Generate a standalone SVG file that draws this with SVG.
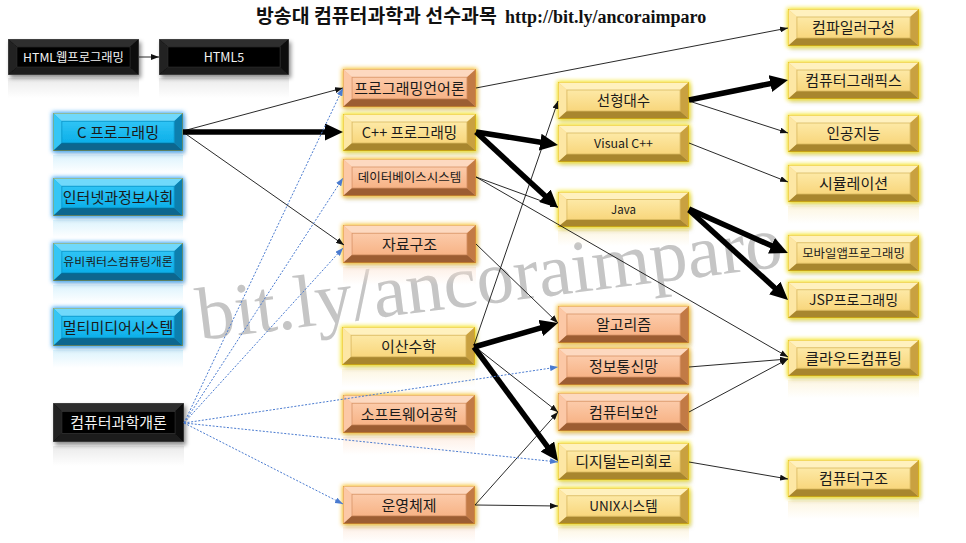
<svg xmlns="http://www.w3.org/2000/svg" xmlns:xlink="http://www.w3.org/1999/xlink" width="966" height="543" viewBox="0 0 966 543">
<style>
.t{font-family:'Noto Sans CJK KR','Noto Sans',sans-serif;text-anchor:middle;fill:#1a1a1a}
.tw{fill:#f2f2f2}
.thin{stroke:#111;stroke-width:0.9;fill:none;marker-end:url(#ah)}
.thick{stroke:#000;stroke-width:5.5;fill:none;marker-end:url(#ahT)}
.dot{stroke:#4a7bd0;stroke-width:1;stroke-dasharray:2 1.6;fill:none;marker-end:url(#ahB)}
.fY{filter:url(#glowY)} .fO{filter:url(#glowO)} .fB{filter:url(#glowB)} .fK{filter:url(#glowK)}
</style>
<defs>
<linearGradient id="gY" x1="0" y1="0" x2="0" y2="1"><stop offset="0" stop-color="#fde9a6"/><stop offset="1" stop-color="#f8d67c"/></linearGradient>
<linearGradient id="gO" x1="0" y1="0" x2="0" y2="1"><stop offset="0" stop-color="#fccbaa"/><stop offset="1" stop-color="#f7b386"/></linearGradient>
<linearGradient id="gB" x1="0" y1="0" x2="0" y2="1"><stop offset="0" stop-color="#30c4f5"/><stop offset="1" stop-color="#0cafe9"/></linearGradient>
<linearGradient id="rY" x1="0" y1="0" x2="0" y2="1"><stop offset="0" stop-color="#fbeec8" stop-opacity="0.55"/><stop offset="1" stop-color="#fbeec8" stop-opacity="0"/></linearGradient>
<linearGradient id="rO" x1="0" y1="0" x2="0" y2="1"><stop offset="0" stop-color="#fde3d2" stop-opacity="0.55"/><stop offset="1" stop-color="#fde3d2" stop-opacity="0"/></linearGradient>
<linearGradient id="rB" x1="0" y1="0" x2="0" y2="1"><stop offset="0" stop-color="#cdeefc" stop-opacity="0.7"/><stop offset="1" stop-color="#cdeefc" stop-opacity="0"/></linearGradient>
<linearGradient id="rK" x1="0" y1="0" x2="0" y2="1"><stop offset="0" stop-color="#dcdcdc" stop-opacity="0.6"/><stop offset="1" stop-color="#dcdcdc" stop-opacity="0"/></linearGradient>
<filter id="glowY" x="-15%" y="-40%" width="135%" height="190%">
<feMorphology in="SourceAlpha" operator="dilate" radius="1.2" result="d"/><feGaussianBlur in="d" stdDeviation="2" result="b"/><feFlood flood-color="#f4e21c"/><feComposite in2="b" operator="in" result="g"/>
<feOffset in="SourceAlpha" dx="2" dy="3" result="o"/><feGaussianBlur in="o" stdDeviation="2" result="ob"/><feFlood flood-color="#000" flood-opacity="0.3"/><feComposite in2="ob" operator="in" result="s"/>
<feMerge><feMergeNode in="s"/><feMergeNode in="g"/><feMergeNode in="SourceGraphic"/></feMerge></filter>
<filter id="glowO" x="-15%" y="-40%" width="135%" height="190%">
<feMorphology in="SourceAlpha" operator="dilate" radius="1.2" result="d"/><feGaussianBlur in="d" stdDeviation="2" result="b"/><feFlood flood-color="#f6c030"/><feComposite in2="b" operator="in" result="g"/>
<feOffset in="SourceAlpha" dx="2" dy="3" result="o"/><feGaussianBlur in="o" stdDeviation="2" result="ob"/><feFlood flood-color="#000" flood-opacity="0.3"/><feComposite in2="ob" operator="in" result="s"/>
<feMerge><feMergeNode in="s"/><feMergeNode in="g"/><feMergeNode in="SourceGraphic"/></feMerge></filter>
<filter id="glowB" x="-15%" y="-40%" width="135%" height="190%">
<feMorphology in="SourceAlpha" operator="dilate" radius="1.2" result="d"/><feGaussianBlur in="d" stdDeviation="2" result="b"/><feFlood flood-color="#3aa6f8"/><feComposite in2="b" operator="in" result="g"/>
<feOffset in="SourceAlpha" dx="2" dy="3" result="o"/><feGaussianBlur in="o" stdDeviation="2" result="ob"/><feFlood flood-color="#000" flood-opacity="0.3"/><feComposite in2="ob" operator="in" result="s"/>
<feMerge><feMergeNode in="s"/><feMergeNode in="g"/><feMergeNode in="SourceGraphic"/></feMerge></filter>
<filter id="glowK" x="-15%" y="-40%" width="135%" height="190%">
<feOffset in="SourceAlpha" dx="2" dy="3" result="o"/><feGaussianBlur in="o" stdDeviation="2.2" result="ob"/><feFlood flood-color="#000" flood-opacity="0.45"/><feComposite in2="ob" operator="in" result="s"/>
<feMerge><feMergeNode in="s"/><feMergeNode in="SourceGraphic"/></feMerge></filter>
<symbol id="bY" viewBox="0 0 132 37" preserveAspectRatio="none">
<rect x="0.5" y="0.5" width="131" height="36" fill="#f3d070" stroke="#e6c000" stroke-width="1"/>
<polygon points="0.5,0.5 131.5,0.5 123,8 9,8" fill="#fff1bf"/>
<polygon points="0.5,0.5 9,8 9,29 0.5,36.5" fill="#fde7a4"/>
<polygon points="131.5,0.5 131.5,36.5 123,29 123,8" fill="#c9a13f"/>
<polygon points="0.5,36.5 9,29 123,29 131.5,36.5" fill="#a8862f"/>
<rect x="9" y="8" width="114" height="21" fill="url(#gY)" stroke="#d8b860" stroke-width="0.8"/>
</symbol>
<symbol id="bO" viewBox="0 0 132 37" preserveAspectRatio="none">
<rect x="0.5" y="0.5" width="131" height="36" fill="#f6b586" stroke="#e09a2a" stroke-width="1"/>
<polygon points="0.5,0.5 131.5,0.5 123,8 9,8" fill="#fdd9c0"/>
<polygon points="0.5,0.5 9,8 9,29 0.5,36.5" fill="#fcc8a6"/>
<polygon points="131.5,0.5 131.5,36.5 123,29 123,8" fill="#c27a45"/>
<polygon points="0.5,36.5 9,29 123,29 131.5,36.5" fill="#9c5d33"/>
<rect x="9" y="8" width="114" height="21" fill="url(#gO)" stroke="#d89468" stroke-width="0.8"/>
</symbol>
<symbol id="bB" viewBox="0 0 132 37" preserveAspectRatio="none">
<rect x="0.5" y="0.5" width="131" height="36" fill="#12b2ea" stroke="#b09a3a" stroke-width="1"/>
<polygon points="0.5,0.5 131.5,0.5 123,8 9,8" fill="#6fd9fb"/>
<polygon points="0.5,0.5 9,8 9,29 0.5,36.5" fill="#34c6f5"/>
<polygon points="131.5,0.5 131.5,36.5 123,29 123,8" fill="#0a7fae"/>
<polygon points="0.5,36.5 9,29 123,29 131.5,36.5" fill="#07668e"/>
<rect x="9" y="8" width="114" height="21" fill="url(#gB)" stroke="#0a94c8" stroke-width="0.8"/>
</symbol>
<symbol id="bK" viewBox="0 0 132 37" preserveAspectRatio="none">
<rect x="0.5" y="0.5" width="131" height="36" fill="#000" stroke="#555" stroke-width="1"/>
<polygon points="0.5,0.5 131.5,0.5 123,8 9,8" fill="#2e2e2e"/>
<polygon points="0.5,0.5 9,8 9,29 0.5,36.5" fill="#222"/>
<polygon points="131.5,0.5 131.5,36.5 123,29 123,8" fill="#111"/>
<polygon points="0.5,36.5 9,29 123,29 131.5,36.5" fill="#1c1c1c"/>
<rect x="9" y="8" width="114" height="21" fill="#000" stroke="#333" stroke-width="0.8"/>
</symbol>
<marker id="ah" markerUnits="userSpaceOnUse" markerWidth="8" markerHeight="6" refX="8" refY="3" orient="auto"><path d="M0,0 L8,3 L0,6 z" fill="#111"/></marker>
<marker id="ahB" markerUnits="userSpaceOnUse" markerWidth="8" markerHeight="6" refX="8" refY="3" orient="auto"><path d="M0,0 L8,3 L0,6 z" fill="#4a7bd0"/></marker>
<marker id="ahT" markerUnits="userSpaceOnUse" markerWidth="18" markerHeight="17" refX="2" refY="8.5" orient="auto"><path d="M0,0 L18,8.5 L0,17 z" fill="#000"/></marker>
</defs>
<rect width="966" height="543" fill="#fff"/>
<text x="200" y="340" transform="rotate(-7.2 200 340)" font-family="'Liberation Serif',serif" font-size="75" fill="#c5c5c5">bit.ly/ancoraimparo</text>
<text y="23" font-weight="bold" fill="#111"><tspan x="256" font-size="19.4" font-family="'Noto Sans CJK KR',sans-serif">방송대 컴퓨터과학과 선수과목</tspan><tspan x="505" font-size="18" font-family="'Liberation Serif',serif">http://bit.ly/ancoraimparo</tspan></text>

<g id="nodes">
<g id="n-html"><rect x="8" y="78" width="131" height="20" fill="url(#rK)"/><use xlink:href="#bK" class="fK" x="8" y="39" width="131" height="36"/><text class="t tw" x="73.5" y="61.5" font-size="12.3">HTML웹프로그래밍</text></g>
<g id="n-html5"><rect x="159" y="78" width="130" height="20" fill="url(#rK)"/><use xlink:href="#bK" class="fK" x="159" y="39" width="130" height="36"/><text class="t tw" x="224" y="61.5" font-size="12.5">HTML5</text></g>
<g id="n-c"><rect x="53" y="155" width="130" height="18" fill="url(#rB)"/><use xlink:href="#bB" class="fB" x="53" y="113" width="130" height="38"/><text class="t" x="118" y="137.5" font-size="15">C 프로그래밍</text></g>
<g id="n-inet"><rect x="53" y="220" width="130" height="18" fill="url(#rB)"/><use xlink:href="#bB" class="fB" x="53" y="178" width="130" height="38"/><text class="t" x="118" y="202.5" font-size="15">인터넷과정보사회</text></g>
<g id="n-ubi"><rect x="53" y="285" width="130" height="18" fill="url(#rB)"/><use xlink:href="#bB" class="fB" x="53" y="243" width="130" height="38"/><text class="t" x="118" y="266.3" font-size="11.9">유비쿼터스컴퓨팅개론</text></g>
<g id="n-multi"><rect x="53" y="350" width="130" height="18" fill="url(#rB)"/><use xlink:href="#bB" class="fB" x="53" y="308" width="130" height="38"/><text class="t" x="118" y="332.5" font-size="15">멀티미디어시스템</text></g>
<g id="n-csintro"><rect x="53" y="446" width="131" height="20" fill="url(#rK)"/><use xlink:href="#bK" class="fK" x="53" y="403" width="131" height="39"/><text class="t tw" x="118.5" y="428" font-size="15">컴퓨터과학개론</text></g>

<g id="n-pl"><use xlink:href="#bO" class="fO" x="343" y="69" width="133" height="38"/><text class="t" x="409.5" y="93.5" font-size="15">프로그래밍언어론</text></g>
<g id="n-cpp"><use xlink:href="#bY" class="fY" x="343" y="114" width="133" height="37"/><text class="t" x="409.5" y="138" font-size="14.5">C++ 프로그래밍</text></g>
<g id="n-db"><use xlink:href="#bO" class="fO" x="343" y="159" width="133" height="37"/><text class="t" x="409.5" y="182" font-size="12.5">데이터베이스시스템</text></g>
<g id="n-ds"><rect x="343" y="267" width="133" height="18" fill="url(#rO)"/><use xlink:href="#bO" class="fO" x="343" y="225" width="133" height="38"/><text class="t" x="409.5" y="249.5" font-size="15">자료구조</text></g>
<g id="n-dm"><rect x="342" y="369" width="133" height="18" fill="url(#rY)"/><use xlink:href="#bY" class="fY" x="342" y="327" width="133" height="38"/><text class="t" x="408.5" y="351.5" font-size="15">이산수학</text></g>
<g id="n-se"><rect x="343" y="437" width="132" height="18" fill="url(#rO)"/><use xlink:href="#bO" class="fO" x="343" y="395" width="132" height="38"/><text class="t" x="409" y="419.5" font-size="15">소프트웨어공학</text></g>
<g id="n-os"><rect x="343" y="527" width="132" height="16" fill="url(#rO)"/><use xlink:href="#bO" class="fO" x="343" y="486" width="132" height="38"/><text class="t" x="409" y="510.5" font-size="15">운영체제</text></g>

<g id="n-la"><use xlink:href="#bY" class="fY" x="558" y="82" width="131" height="37"/><text class="t" x="623.5" y="106" font-size="14.5">선형대수</text></g>
<g id="n-vc"><use xlink:href="#bY" class="fY" x="558" y="125" width="131" height="37"/><text class="t" x="623.5" y="148" font-size="12.4">Visual C++</text></g>
<g id="n-java"><rect x="558" y="230" width="131" height="16" fill="url(#rY)"/><use xlink:href="#bY" class="fY" x="558" y="192" width="131" height="35"/><text class="t" x="623.5" y="213.6" font-size="11.5">Java</text></g>
<g id="n-algo"><use xlink:href="#bO" class="fO" x="558" y="306" width="131" height="37"/><text class="t" x="623.5" y="330" font-size="15">알고리즘</text></g>
<g id="n-net"><use xlink:href="#bO" class="fO" x="558" y="348" width="131" height="37"/><text class="t" x="623.5" y="372" font-size="15">정보통신망</text></g>
<g id="n-sec"><use xlink:href="#bO" class="fO" x="558" y="393" width="131" height="38"/><text class="t" x="623.5" y="417.5" font-size="15">컴퓨터보안</text></g>
<g id="n-dl"><use xlink:href="#bY" class="fY" x="558" y="443" width="131" height="37"/><text class="t" x="623.5" y="467" font-size="15">디지털논리회로</text></g>
<g id="n-unix"><rect x="558" y="527" width="131" height="16" fill="url(#rY)"/><use xlink:href="#bY" class="fY" x="558" y="488" width="131" height="36"/><text class="t" x="623.5" y="511" font-size="13.5">UNIX시스템</text></g>

<g id="n-comp"><use xlink:href="#bY" class="fY" x="788" y="9" width="131" height="37"/><text class="t" x="853.5" y="33" font-size="15">컴파일러구성</text></g>
<g id="n-cg"><use xlink:href="#bY" class="fY" x="788" y="62" width="131" height="37"/><text class="t" x="853.5" y="86" font-size="15">컴퓨터그래픽스</text></g>
<g id="n-ai"><use xlink:href="#bY" class="fY" x="788" y="115" width="131" height="37"/><text class="t" x="853.5" y="139" font-size="14.7">인공지능</text></g>
<g id="n-sim"><rect x="788" y="206" width="131" height="18" fill="url(#rY)"/><use xlink:href="#bY" class="fY" x="788" y="165" width="131" height="37"/><text class="t" x="853.5" y="189" font-size="15">시뮬레이션</text></g>
<g id="n-mob"><use xlink:href="#bY" class="fY" x="788" y="235" width="131" height="36"/><text class="t" x="853.5" y="257.5" font-size="12.4">모바일앱프로그래밍</text></g>
<g id="n-jsp"><use xlink:href="#bY" class="fY" x="788" y="282" width="131" height="36"/><text class="t" x="853.5" y="305" font-size="14">JSP프로그래밍</text></g>
<g id="n-cloud"><rect x="788" y="380" width="131" height="18" fill="url(#rY)"/><use xlink:href="#bY" class="fY" x="788" y="340" width="131" height="36"/><text class="t" x="853.5" y="363.5" font-size="15">클라우드컴퓨팅</text></g>
<g id="n-arch"><rect x="788" y="501" width="131" height="18" fill="url(#rY)"/><use xlink:href="#bY" class="fY" x="788" y="460" width="131" height="37"/><text class="t" x="853.5" y="484" font-size="15">컴퓨터구조</text></g>
</g>

<g id="connectors">
<line class="thin" x1="139" y1="57" x2="159" y2="57"/>
<line class="thin" x1="183" y1="131" x2="343" y2="88"/>
<line class="thin" x1="183" y1="132" x2="344" y2="245"/>
<line class="thin" x1="476" y1="88" x2="788" y2="28"/>
<line class="thin" x1="476" y1="177" x2="558" y2="207"/>
<line class="thin" x1="476" y1="177" x2="788" y2="357"/>
<line class="thin" x1="474" y1="345" x2="558" y2="101"/>
<line class="thin" x1="474" y1="346" x2="558" y2="412"/>
<line class="thin" x1="476" y1="244" x2="558" y2="323"/>
<line class="thin" x1="475" y1="505" x2="558" y2="412"/>
<line class="thin" x1="475" y1="505" x2="558" y2="506"/>
<line class="thin" x1="689" y1="101" x2="788" y2="133"/>
<line class="thin" x1="689" y1="143" x2="788" y2="182"/>
<line class="thin" x1="689" y1="367" x2="788" y2="359"/>
<line class="thin" x1="689" y1="412" x2="788" y2="359"/>
<line class="thin" x1="689" y1="462" x2="788" y2="479"/>

<line class="thick" x1="183" y1="132" x2="327" y2="132"/>
<line class="thick" x1="476" y1="132" x2="542.2" y2="142.5"/>
<line class="thick" x1="476" y1="132" x2="546.3" y2="197.1"/>
<line class="thick" x1="474" y1="347" x2="542.6" y2="327.4"/>
<line class="thick" x1="474" y1="347" x2="548.5" y2="448.1"/>
<line class="thick" x1="689" y1="100" x2="772.3" y2="83.2"/>
<line class="thick" x1="689" y1="209" x2="773.3" y2="246.6"/>
<line class="thick" x1="689" y1="210" x2="776.2" y2="289.2"/>

<line class="dot" x1="184" y1="423" x2="343" y2="88"/>
<line class="dot" x1="184" y1="423" x2="343" y2="178"/>
<line class="dot" x1="184" y1="423" x2="343" y2="248"/>
<line class="dot" x1="184" y1="423" x2="558" y2="367"/>
<line class="dot" x1="184" y1="423" x2="558" y2="462"/>
<line class="dot" x1="184" y1="423" x2="343" y2="504"/>
</g>
</svg>
